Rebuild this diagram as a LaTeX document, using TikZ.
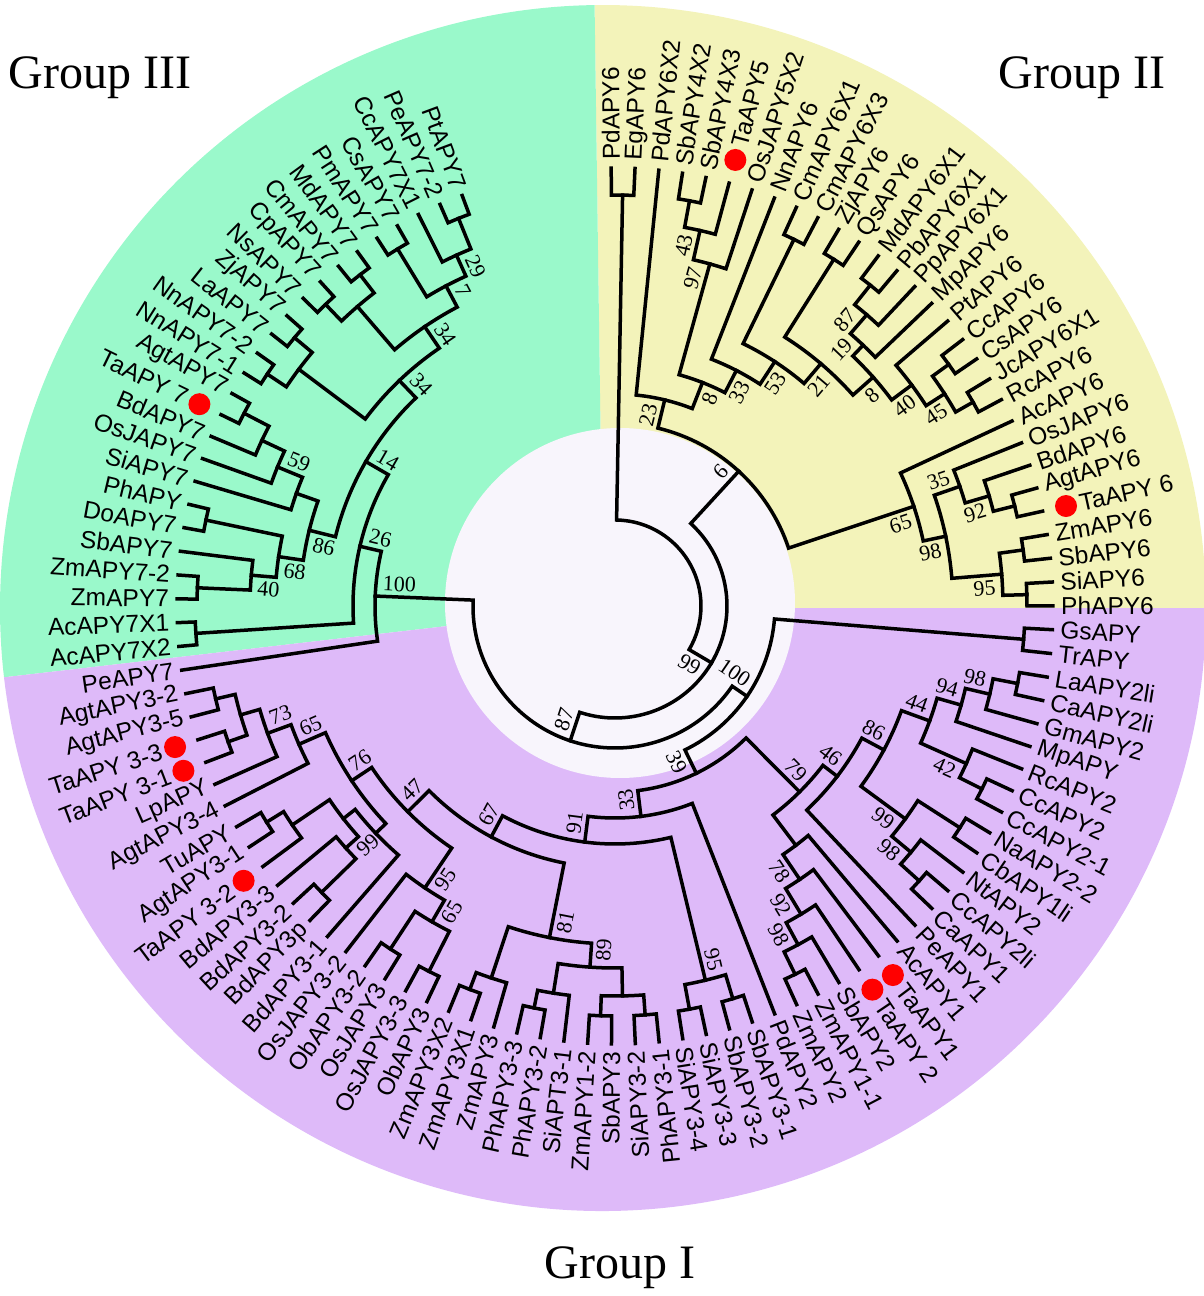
\documentclass[tikz,border=0pt]{standalone}
\usepackage{fontspec}
\setmainfont{Liberation Serif}
\newfontfamily\leaffont{Liberation Sans}
\usetikzlibrary{positioning}

\definecolor{grpone}{HTML}{DEBAF9}
\definecolor{grptwo}{HTML}{F3F3BA}
\definecolor{grpthree}{HTML}{9AF9CB}
\definecolor{hub}{HTML}{F8F5FC}

\def\angA{90.5}
\def\angStep{3.12}
\def\Rleaf{438}
\def\Rtext{446}
\def\Rdot{462}
\def\flipAt{-82.6}

\newcommand{\setval}[3]{\expandafter\xdef\csname #1@#2\endcsname{#3}}
\newcommand{\getval}[2]{\csname #1@#2\endcsname}

% leaf tip: [shift for dot]{name}{index}{text}
\newcommand{\tipnode}[4][0]{%
  \pgfmathsetmacro{\tpA}{\angA-\angStep*#3}%
  \setval{ang}{#2}{\tpA}%
  \coordinate (#2) at (\tpA:\Rleaf);
  \pgfmathsetmacro{\tpR}{\Rtext+#1}%
  \ifdim\tpA pt<\flipAt pt
    \node[leaf, anchor=east, rotate=\tpA+180] (t#2) at (\tpA:\tpR) {#4};
  \else
    \node[leaf, anchor=west, rotate=\tpA] (t#2) at (\tpA:\tpR) {#4};
  \fi
  \ifdim#1pt>0pt
    \node[dot] (d#2) at (\tpA:\Rdot) {};
  \fi}

% inner node: {name}{radius}{child}{child}
\newcommand{\joinnode}[4]{%
  \pgfmathsetmacro{\jnA}{\getval{ang}{#3}}%
  \pgfmathsetmacro{\jnB}{\getval{ang}{#4}}%
  \pgfmathsetmacro{\jnM}{(\jnA+\jnB)/2}%
  \setval{ang}{#1}{\jnM}\setval{rad}{#1}{#2}%
  \pgfmathtruncatemacro{\jnS}{\jnA>\jnB ? 1 : -1}%
  \setval{sgn}{#3}{\jnS}%
  \pgfmathtruncatemacro{\jnS}{-\jnS}%
  \setval{sgn}{#4}{\jnS}%
  \coordinate (#1) at (\jnM:#2);
  \draw[branch] (#3) -- (\jnA:#2) arc[start angle=\jnA, end angle=\jnB, radius=#2] -- (#4);}

% bootstrap value beside the stem of a node, away from its sibling
\newcounter{bsn}
\newcommand{\bootat}[2]{%
  \stepcounter{bsn}%
  \pgfmathsetmacro{\bvA}{\getval{ang}{#1}}%
  \pgfmathsetmacro{\bvP}{\getval{rad}{#1}-6}%
  \pgfmathtruncatemacro{\bvS}{\getval{sgn}{#1}}%
  \ifdim\bvA pt<\flipAt pt
    \ifnum\bvS>0 \def\bvAnc{north west}\else\def\bvAnc{south west}\fi
    \pgfmathsetmacro{\bvR}{\bvA+180}%
  \else
    \ifnum\bvS>0 \def\bvAnc{south east}\else\def\bvAnc{north east}\fi
    \pgfmathsetmacro{\bvR}{\bvA}%
  \fi
  \node[boot, rotate=\bvR, anchor=\bvAnc] (bv\thebsn) at (\bvA:\bvP) {#2};}

\begin{document}
\begin{tikzpicture}[x=1pt, y=1pt]
\tikzset{
  branch/.style={line width=3.5pt, line join=miter, line cap=rect},
  leaf/.style={font=\leaffont\fontsize{24.5}{28}\selectfont, inner sep=0pt},
  boot/.style={font=\fontsize{22}{24}\selectfont, inner xsep=1pt, inner ysep=5pt},
  dot/.style={circle, fill=red, minimum size=22pt, inner sep=0pt},
  grouplabel/.style={font=\fontsize{48}{52}\selectfont}
}
\useasboundingbox (-615,-690) rectangle (588,606);

% sectors
\fill[grptwo] (-12,-2) -- ++(0:603) arc[start angle=0, end angle=90.8, radius=603] -- cycle;
\fill[grpthree] (-12,-2) -- ++(90.8:603) arc[start angle=90.8, end angle=186.6, radius=603] -- cycle;
\fill[grpone] (-12,-2) -- ++(186.6:603) arc[start angle=186.6, end angle=360, radius=603] -- cycle;
\fill[hub] (5,3) circle[radius=175];

% leaves, group II
\tipnode{L0}{0}{PdAPY6}
\tipnode{L1}{1}{EgAPY6}
\tipnode{L2}{2}{PdAPY6X2}
\tipnode{L3}{3}{SbAPY4X2}
\tipnode{L4}{4}{SbAPY4X3}
\tipnode[30]{L5}{5}{TaAPY5}
\tipnode{L6}{6}{OsJAPY5X2}
\tipnode{L7}{7}{NnAPY6}
\tipnode{L8}{8}{CmAPY6X1}
\tipnode{L9}{9}{CmAPY6X3}
\tipnode{L10}{10}{ZjAPY6}
\tipnode{L11}{11}{QsAPY6}
\tipnode{L12}{12}{MdAPY6X1}
\tipnode{L13}{13}{PbAPY6X1}
\tipnode{L14}{14}{PpAPY6X1}
\tipnode{L15}{15}{MpAPY6}
\tipnode{L16}{16}{PtAPY6}
\tipnode{L17}{17}{CcAPY6}
\tipnode{L18}{18}{CsAPY6}
\tipnode{L19}{19}{JcAPY6X1}
\tipnode{L20}{20}{RcAPY6}
\tipnode{L21}{21}{AcAPY6}
\tipnode{L22}{22}{OsJAPY6}
\tipnode{L23}{23}{BdAPY6}
\tipnode{L24}{24}{AgtAPY6}
\tipnode[30]{L25}{25}{TaAPY 6}
\tipnode{L26}{26}{ZmAPY6}
\tipnode{L27}{27}{SbAPY6}
\tipnode{L28}{28}{SiAPY6}
\tipnode{L29}{29}{PhAPY6}
% leaves, group I
\tipnode{L30}{30}{GsAPY}
\tipnode{L31}{31}{TrAPY}
\tipnode{L32}{32}{LaAPY2li}
\tipnode{L33}{33}{CaAPY2li}
\tipnode{L34}{34}{GmAPY2}
\tipnode{L35}{35}{MpAPY}
\tipnode{L36}{36}{RcAPY2}
\tipnode{L37}{37}{CcAPY2}
\tipnode{L38}{38}{CcAPY2-1}
\tipnode{L39}{39}{NaAPY2-2}
\tipnode{L40}{40}{CbAPY1li}
\tipnode{L41}{41}{NtAPY2}
\tipnode{L42}{42}{CcAPY2li}
\tipnode{L43}{43}{CaAPY1}
\tipnode{L44}{44}{PeAPY1}
\tipnode{L45}{45}{AcAPY1}
\tipnode[30]{L46}{46}{TaAPY1}
\tipnode[30]{L47}{47}{TaAPY 2}
\tipnode{L48}{48}{SbAPY2}
\tipnode{L49}{49}{ZmAPY1-1}
\tipnode{L50}{50}{ZmAPY2}
\tipnode{L51}{51}{PdAPY2}
\tipnode{L52}{52}{SbAPY3-1}
\tipnode{L53}{53}{SbAPY3-2}
\tipnode{L54}{54}{SiAPY3-3}
\tipnode{L55}{55}{SiAPY3-4}
\tipnode{L56}{56}{PhAPY3-1}
\tipnode{L57}{57}{SiAPY3-2}
\tipnode{L58}{58}{SbAPY3}
\tipnode{L59}{59}{ZmAPY1-2}
\tipnode{L60}{60}{SiAPT3-1}
\tipnode{L61}{61}{PhAPY3-2}
\tipnode{L62}{62}{PhAPY3-3}
\tipnode{L63}{63}{ZmAPY3}
\tipnode{L64}{64}{ZmAPY3X1}
\tipnode{L65}{65}{ZmAPY3X2}
\tipnode{L66}{66}{ObAPY3}
\tipnode{L67}{67}{OsJAPY3-3}
\tipnode{L68}{68}{OsJAPY3}
\tipnode{L69}{69}{ObAPY3-2}
\tipnode{L70}{70}{OsJAPY3-2}
\tipnode{L71}{71}{BdAPY3-1}
\tipnode{L72}{72}{BdAPY3p}
\tipnode{L73}{73}{BdAPY3-2}
\tipnode{L74}{74}{BdAPY3-3}
\tipnode[30]{L75}{75}{TaAPY 3-2}
\tipnode{L76}{76}{AgtAPY3-1}
\tipnode{L77}{77}{TuAPY}
\tipnode{L78}{78}{AgtAPY3-4}
\tipnode{L79}{79}{LpAPY}
\tipnode[30]{L80}{80}{TaAPY 3-1}
\tipnode[30]{L81}{81}{TaAPY 3-3}
\tipnode{L82}{82}{AgtAPY3-5}
\tipnode{L83}{83}{AgtAPY3-2}
% leaves, group III
\tipnode{L84}{84}{PeAPY7}
\tipnode{L85}{85}{AcAPY7X2}
\tipnode{L86}{86}{AcAPY7X1}
\tipnode{L87}{87}{ZmAPY7}
\tipnode{L88}{88}{ZmAPY7-2}
\tipnode{L89}{89}{SbAPY7}
\tipnode{L90}{90}{DoAPY7}
\tipnode{L91}{91}{PhAPY}
\tipnode{L92}{92}{SiAPY7}
\tipnode{L93}{93}{OsJAPY7}
\tipnode{L94}{94}{BdAPY7}
\tipnode[30]{L95}{95}{TaAPY 7}
\tipnode{L96}{96}{AgtAPY7}
\tipnode{L97}{97}{NnAPY7-1}
\tipnode{L98}{98}{NnAPY7-2}
\tipnode{L99}{99}{LaAPY7}
\tipnode{L100}{100}{ZjAPY7}
\tipnode{L101}{101}{NsAPY7}
\tipnode{L102}{102}{CpAPY7}
\tipnode{L103}{103}{CmAPY7}
\tipnode{L104}{104}{MdAPY7}
\tipnode{L105}{105}{PmAPY7}
\tipnode{L106}{106}{CsAPY7}
\tipnode{L107}{107}{CcAPY7X1}
\tipnode{L108}{108}{PeAPY7-2}
\tipnode{L109}{109}{PtAPY7}

% group II clades
\joinnode{pe}{411}{L0}{L1}
\joinnode{sb}{412}{L3}{L4}
\joinnode{t43}{385}{sb}{L5}
\joinnode{t97}{355}{t43}{L6}
\joinnode{cm}{408}{L8}{L9}
\joinnode{zq}{410}{L10}{L11}
\joinnode{mp}{410}{L12}{L13}
\joinnode{r87}{385}{mp}{L14}
\joinnode{r19}{360}{r87}{L15}
\joinnode{cj}{412}{L17}{L18}
\joinnode{ra}{412}{L19}{L20}
\joinnode{d45}{392}{cj}{ra}
\joinnode{d40}{370}{L16}{d45}
\joinnode{d8b}{345}{r19}{d40}
\joinnode{d21}{318}{zq}{d8b}
\joinnode{d53}{292}{cm}{d21}
\joinnode{d33}{265}{L7}{d53}
\joinnode{d8}{240}{t97}{d33}
\joinnode{g23}{212}{L2}{d8}
\joinnode{ma}{412}{L24}{L25}
\joinnode{m92}{390}{L23}{ma}
\joinnode{m35}{365}{L22}{m92}
\joinnode{zs}{412}{L26}{L27}
\joinnode{sp}{412}{L28}{L29}
\joinnode{m95}{388}{zs}{sp}
\joinnode{m98}{338}{m35}{m95}
\joinnode{m65}{315}{L21}{m98}
\joinnode{g6}{183}{g23}{m65}

% group I clades
\joinnode{gt}{410}{L30}{L31}
\joinnode{lc}{410}{L32}{L33}
\joinnode{n98}{385}{lc}{L34}
\joinnode{n94}{360}{n98}{L35}
\joinnode{cc}{410}{L37}{L38}
\joinnode{n42}{385}{L36}{cc}
\joinnode{n44}{335}{n94}{n42}
\joinnode{nc}{410}{L39}{L40}
\joinnode{cca}{410}{L42}{L43}
\joinnode{n98b}{385}{L41}{cca}
\joinnode{n99}{360}{nc}{n98b}
\joinnode{n86}{305}{n44}{n99}
\joinnode{n46}{280}{n86}{L44}
\joinnode{zz}{410}{L49}{L50}
\joinnode{m98b}{385}{L48}{zz}
\joinnode{m92b}{360}{L47}{m98b}
\joinnode{m78}{330}{L46}{m92b}
\joinnode{ma1}{300}{L45}{m78}
\joinnode{f79}{262}{n46}{ma1}
\joinnode{q1}{410}{L52}{L53}
\joinnode{q2}{410}{L54}{L55}
\joinnode{q95}{385}{q1}{q2}
\joinnode{pa}{410}{L56}{L57}
\joinnode{pb}{410}{L58}{L59}
\joinnode{q4}{390}{pa}{pb}
\joinnode{pp3}{410}{L61}{L62}
\joinnode{spp}{392}{L60}{pp3}
\joinnode{n89}{362}{q4}{spp}
\joinnode{zx}{410}{L64}{L65}
\joinnode{z3}{392}{L63}{zx}
\joinnode{n81}{338}{n89}{z3}
\joinnode{oo1}{410}{L66}{L67}
\joinnode{oo3}{410}{L68}{L69}
\joinnode{o65}{365}{oo1}{oo3}
\joinnode{o95}{340}{o65}{L70}
\joinnode{bd4}{410}{L72}{L73}
\joinnode{bdy}{362}{L74}{bd4}
\joinnode{bd1}{410}{L76}{L77}
\joinnode{bd5}{390}{L75}{bd1}
\joinnode{bd99}{345}{bdy}{bd5}
\joinnode{bd6}{330}{L71}{bd99}
\joinnode{ag1}{410}{L82}{L83}
\joinnode{ag2}{410}{L80}{L81}
\joinnode{ag3}{390}{ag2}{ag1}
\joinnode{ag73}{370}{L79}{ag3}
\joinnode{ag65}{345}{L78}{ag73}
\joinnode{ag76}{316}{bd6}{ag65}
\joinnode{n47}{292}{o95}{ag76}
\joinnode{n67}{262}{n81}{n47}
\joinnode{n91}{238}{q95}{n67}
\joinnode{g33}{212}{L51}{n91}
\joinnode{e39}{186}{f79}{g33}
\joinnode{dI}{160}{gt}{e39}

% group III clades
\joinnode{aa}{420}{L85}{L86}
\joinnode{z7}{418}{L87}{L88}
\joinnode{s40}{365}{z7}{L89}
\joinnode{pd}{418}{L90}{L91}
\joinnode{s68}{340}{s40}{pd}
\joinnode{agt}{418}{L95}{L96}
\joinnode{b7}{390}{L94}{agt}
\joinnode{o59}{365}{L93}{b7}
\joinnode{x7}{338}{L92}{o59}
\joinnode{n86c}{315}{s68}{x7}
\joinnode{nn}{418}{L97}{L98}
\joinnode{zl}{418}{L99}{L100}
\joinnode{nz}{395}{nn}{zl}
\joinnode{cn}{418}{L101}{L102}
\joinnode{mc}{418}{L103}{L104}
\joinnode{cnm}{395}{cn}{mc}
\joinnode{cpm}{418}{L105}{L106}
\joinnode{ppt}{418}{L108}{L109}
\joinnode{n29}{385}{L107}{ppt}
\joinnode{n7}{362}{cpm}{n29}
\joinnode{n34b}{338}{cnm}{n7}
\joinnode{n34a}{312}{nz}{n34b}
\joinnode{n14}{288}{n86c}{n34a}
\joinnode{n26}{262}{aa}{n14}
\joinnode{g3}{240}{n26}{L84}

% backbone
\joinnode{cI}{142}{g3}{dI}
\joinnode{bI}{112}{g6}{cI}
\joinnode{root}{86}{pe}{bI}

% bootstrap values
\bootat{t43}{43}
\bootat{t97}{97}
\bootat{g23}{23}
\bootat{d8}{8}
\bootat{d33}{33}
\bootat{d53}{53}
\bootat{d21}{21}
\bootat{r19}{19}
\bootat{r87}{87}
\bootat{d8b}{8}
\bootat{d40}{40}
\bootat{d45}{45}
\bootat{g6}{6}
\bootat{m35}{35}
\bootat{m65}{65}
\bootat{m92}{92}
\bootat{m98}{98}
\bootat{m95}{95}
\bootat{dI}{100}
\bootat{bI}{99}
\bootat{cI}{87}
\bootat{e39}{39}
\bootat{f79}{79}
\bootat{n46}{46}
\bootat{n86}{86}
\bootat{n44}{44}
\bootat{n94}{94}
\bootat{n98}{98}
\bootat{n42}{42}
\bootat{n99}{99}
\bootat{n98b}{98}
\bootat{m78}{78}
\bootat{m92b}{92}
\bootat{m98b}{98}
\bootat{g33}{33}
\bootat{n91}{91}
\bootat{n67}{67}
\bootat{n81}{81}
\bootat{n89}{89}
\bootat{q95}{95}
\bootat{n47}{47}
\bootat{o95}{95}
\bootat{o65}{65}
\bootat{ag73}{73}
\bootat{ag65}{65}
\bootat{ag76}{76}
\bootat{bdy}{99}
\bootat{g3}{100}
\bootat{n26}{26}
\bootat{n14}{14}
\bootat{o59}{59}
\bootat{n86c}{86}
\bootat{s68}{68}
\bootat{s40}{40}
\bootat{n34a}{34}
\bootat{n34b}{34}
\bootat{n7}{7}
\bootat{n29}{29}

% group names
\node[grouplabel] (gIII) at (-515,528) {Group III};
\node[grouplabel] (gII) at (467,528) {Group II};
\node[grouplabel] (gI) at (5,-662) {Group I};
\end{tikzpicture}
\end{document}
